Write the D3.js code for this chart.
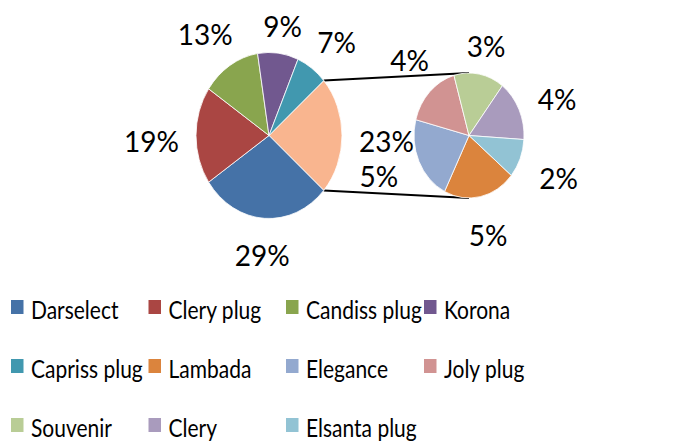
<!DOCTYPE html>
<html><head><meta charset="utf-8">
<script src="https://cdn.jsdelivr.net/npm/d3@7"></script>
<style>
html,body{margin:0;padding:0;background:#fff;}
svg{display:block;}
text{font-family:Lato,"Noto Sans",sans-serif;fill:#000;}
</style></head>
<body>
<svg id="c" width="676" height="446"></svg>
<script>
// ---- data ----
const mainNames = ["Darselect","Clery plug","Candiss plug","Korona","Capriss plug"];
const mainValues = [29,19,13,9,7];
const otherLabel = "Other";
const subNames = ["Lambada","Elegance","Joly plug","Souvenir","Clery","Elsanta plug"];
const subValues = [4.9,5.0,3.8,3.4,3.6,2.3];
const colors = ["#4572A7","#AA4643","#89A54E","#71588F","#4198AF","#DB843D","#93A9CF","#D19392","#B9CD96","#A99BBD","#92C3D4"];
const otherColor = "#F9B58F";

const svg = d3.select("#c");
const total = d3.sum(mainValues) + d3.sum(subValues);
const otherValue = d3.sum(subValues);
const fmt = v => Math.round(v/total*100) + "%";
const rad = d => d*Math.PI/180;

// geometry
const M = {cx:269, cy:135.5, rx:73, ry:83};
const S = {cx:469, cy:135.5, rx:55, ry:62.5};

// main pie: other slice centred at 3 o'clock, rest clockwise after it
const otherSpan = otherValue/total*2*Math.PI;
const otherStart = Math.PI/2 - otherSpan/2;
const mainData = [{name:otherLabel, value:otherValue, color:otherColor, other:true}]
  .concat(mainNames.map((n,i)=>({name:n, value:mainValues[i], color:colors[i]})));
const mainPie = d3.pie().sort(null).value(d=>d.value)
  .startAngle(otherStart).endAngle(otherStart + 2*Math.PI);
const mainArcs = mainPie(mainData);

const subData = subNames.map((n,i)=>({name:n, value:subValues[i], color:colors[5+i]}));
const subStart = rad(129.7);
const subPie = d3.pie().sort(null).value(d=>d.value).startAngle(subStart).endAngle(subStart+2*Math.PI);
const subArcs = subPie(subData);

function drawPie(arcs, G){
  const arc = d3.arc().innerRadius(0).outerRadius(G.rx);
  const g = svg.append("g").attr("transform",`translate(${G.cx},${G.cy}) scale(1,${G.ry/G.rx})`);
  g.selectAll("path").data(arcs).join("path")
    .attr("d",arc).attr("fill",d=>d.data.color)
    .attr("stroke","#fff").attr("stroke-width",0.8).attr("vector-effect","non-scaling-stroke");
}
const pt = (G,a,k)=>[G.cx + G.rx*k*Math.sin(a), G.cy - G.ry*k*Math.cos(a)];

// connector lines
const oa = mainArcs[0];
const lines = [[pt(M,oa.startAngle,1), pt(S,0,1)], [pt(M,oa.endAngle,1), pt(S,Math.PI,1)]];
svg.selectAll("line.conn").data(lines).join("line").attr("class","conn")
  .attr("x1",d=>d[0][0]).attr("y1",d=>d[0][1]).attr("x2",d=>d[1][0]).attr("y2",d=>d[1][1])
  .attr("stroke","#000").attr("stroke-width",2);

drawPie(mainArcs, M);
drawPie(subArcs, S);

// labels (outside end, avoiding the connector lines)
const fs = 28;
function hitsLine(cx, cy, hw, hh){
  return lines.some(([a,b])=>{
    for(let t=0;t<=1;t+=0.01){
      const x=a[0]+(b[0]-a[0])*t, y=a[1]+(b[1]-a[1])*t;
      if(Math.abs(x-cx)<hw && Math.abs(y-cy)<hh) return true;
    }
    return false;
  });
}
function labelPos(G, a, w){
  const px = G.cx + (G.rx+15)*Math.sin(a), py = G.cy + 6 - (G.ry+12)*Math.cos(a);
  const s = (w/2+2)*Math.abs(Math.sin(a)) + 18*Math.abs(Math.cos(a));
  return [px + s*Math.sin(a), py - s*Math.cos(a)];
}
function labels(arcs, G){
  arcs.forEach(d=>{
    let a = (d.startAngle+d.endAngle)/2;
    const t = svg.append("text").attr("font-size",fs).attr("text-anchor","middle").text(fmt(d.data.value));
    const w = t.node().getComputedTextLength();
    let p = labelPos(G,a,w);
    const norm = ((a % (2*Math.PI)) + 2*Math.PI) % (2*Math.PI);
    const dir = norm > Math.PI ? 1 : -1; // rotate toward the top
    let n = 0;
    while(hitsLine(p[0], p[1], w/2+1, 14) && n < 60){ a += dir*rad(1); p = labelPos(G,a,w); n++; }
    t.attr("x",p[0]).attr("y",p[1]).attr("dy","0.36em");
  });
}
labels(mainArcs, M);
labels(subArcs, S);

// legend
const legendItems = mainNames.concat(subNames);
const colX = [11,148.5,286,424], rowY = [300,359,418];
const lg = svg.append("g");
legendItems.forEach((n,i)=>{
  const c = i%4, r = Math.floor(i/4);
  lg.append("rect").attr("x",colX[c]).attr("y",rowY[r]).attr("width",12.5).attr("height",14).attr("fill",colors[i]);
  lg.append("text").attr("transform",`translate(${colX[c]+20},${rowY[r]+19}) scale(1,1.18)`)
    .attr("font-size",21).text(n);
});
</script>
</body></html>
